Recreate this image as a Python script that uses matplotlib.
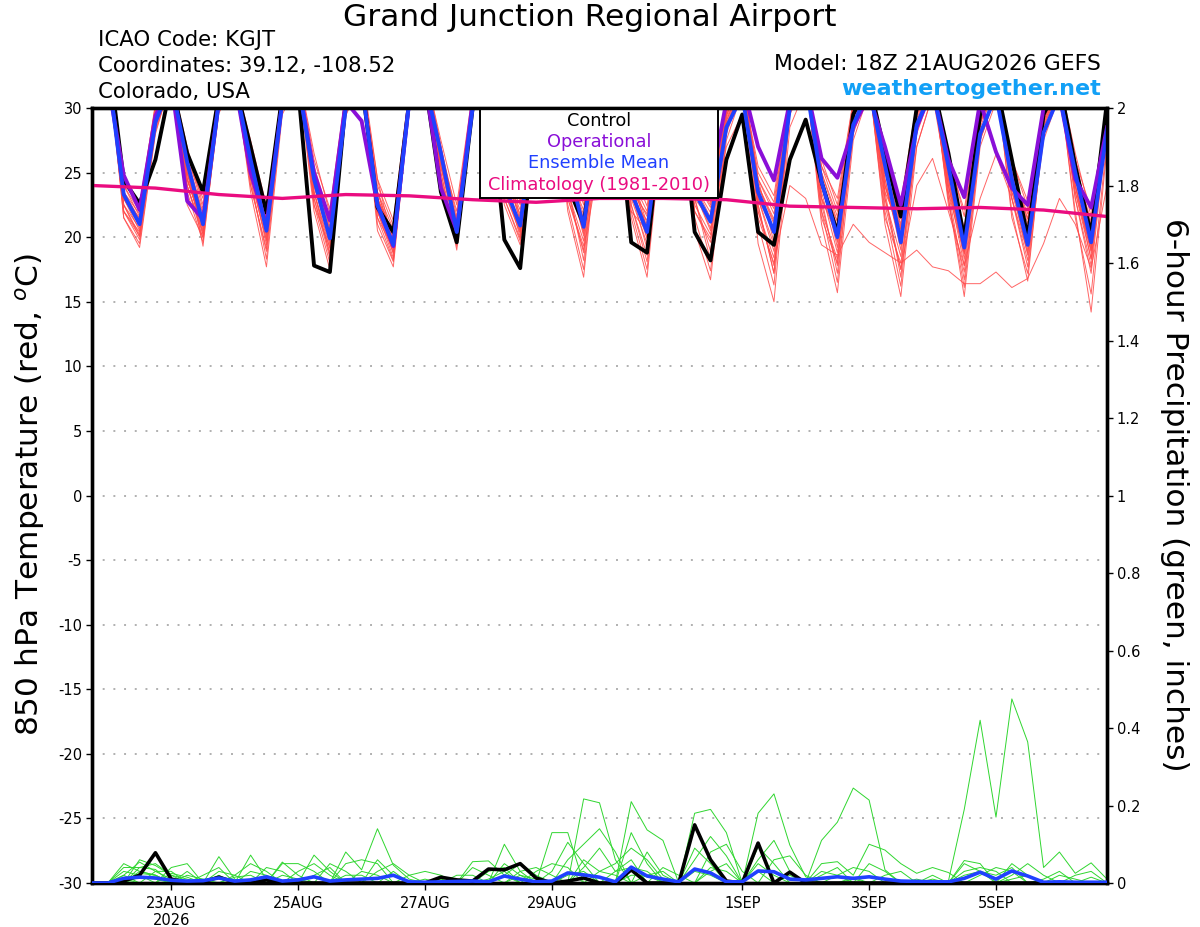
import numpy as np
import matplotlib
matplotlib.use("Agg")
import matplotlib.pyplot as plt
from matplotlib.patches import Rectangle

plt.rcParams['axes.unicode_minus'] = False

# ---------------- data ----------------
run_start = np.datetime64('2026-08-21T18')
step_hours = 6
n_steps = 65
tick_dates = ['2026-08-23', '2026-08-25', '2026-08-27', '2026-08-29',
              '2026-09-01', '2026-09-03', '2026-09-05']
tick_labels = ['23AUG\n2026', '25AUG', '27AUG', '29AUG', '1SEP', '3SEP', '5SEP']

# 850 hPa temperature (deg C), 6-hourly from 18Z 21AUG
t_mean = [33, 33,
          23.3, 21.0, 28.9, 32, 25.8, 21.0, 30.5, 32, 26.0, 20.5, 30.5, 32,
          24.5, 19.9, 30.0, 32, 22.5, 19.4, 30.5, 32, 26.5, 20.4, 30.0, 32,
          24.0, 20.9, 30.0, 32, 25.5, 20.8, 30.0, 32, 23.5, 20.4, 30.0, 32,
          23.5, 21.2, 28.5, 31, 23.5, 20.4, 30.0, 32, 24.3, 20.0, 28.7, 31.5,
          25.6, 19.6, 28.7, 31.5, 25.5, 19.2, 28.0, 31.0, 24.5, 19.4, 28.1, 31.0,
          25.0, 19.6, 28.3]
t_control = [33, 34.4,
             24.4, 22.6, 26.0, 32, 26.5, 23.5, 31.0, 32, 27.0, 21.9, 31.0, 31.5,
             17.8, 17.3, 30.5, 32, 22.3, 20.4, 30.5, 32, 23.5, 19.6, 30.0, 32,
             19.8, 17.6, 30.0, 32, 24.0, 21.0, 30.0, 32, 19.6, 18.8, 30.0, 32,
             20.4, 18.2, 26.0, 29.5, 20.4, 19.4, 26.0, 29.1, 24.3, 20.3, 29.5, 32,
             26.5, 21.6, 30.0, 32, 26.5, 19.9, 29.5, 32, 26.0, 20.0, 29.5, 32,
             25.5, 20.2, 30.5]
t_oper = [33, 32,
          24.8, 22.1, 29.4, 32, 22.8, 21.4, 30.5, 32, 25.0, 20.9, 30.5, 32,
          25.0, 21.3, 30.5, 29.0, 22.5, 19.3, 30.5, 32, 23.8, 20.5, 30.5, 32,
          25.0, 23.5, 30.5, 32, 26.0, 24.0, 30.5, 32, 26.0, 23.5, 30.5, 32,
          26.0, 24.0, 30.5, 32, 27.0, 24.4, 30.5, 32, 26.1, 24.6, 28.5, 31,
          27.0, 22.5, 28.5, 31.5, 26.0, 23.1, 30.5, 26.6, 23.8, 22.5, 30.0, 31.0,
          24.5, 22.3, 28.5]
# climatology, daily at 18Z
clim_t = [24.0, 23.8, 23.3, 23.0, 23.3, 23.2, 22.9, 22.7, 23.0, 23.0,
          22.9, 22.4, 22.3, 22.2, 22.3, 22.1, 21.6]

# ensemble members (temperature)
m01 = [33.5, 33.0, 22.0, 20.4, 28.5, 32.5, 24.5, 20.9, 30.8, 32.8, 25.0, 19.4, 30.5, 33.0,
       23.0, 18.8, 30.2, 33.2, 21.5, 19.1, 30.8, 33.0, 25.5, 20.2, 30.5, 32.6, 23.5, 20.3, 30.2, 32.8,
       24.0, 18.2, 29.8, 32.5, 23.0, 21.3, 30.6, 32.4, 22.0, 19.6, 29.0, 32.0, 22.5, 17.2, 30.5, 32.3,
       22.0, 18.3, 29.5, 32.0, 24.0, 19.8, 29.5, 32.2, 24.5, 18.7, 29.0, 32.0, 23.5, 20.2, 29.2, 31.8,
       24.0, 18.8, 29.0]
m02 = [33.0, 33.5, 23.0, 21.5, 29.5, 32.0, 25.5, 19.3, 30.2, 32.4, 26.5, 20.8, 31.0, 32.6,
       24.5, 20.5, 30.6, 32.8, 22.0, 18.4, 30.2, 32.5, 26.0, 21.1, 30.8, 32.9, 24.5, 21.8, 30.5, 33.0,
       26.5, 22.5, 30.4, 32.7, 22.5, 18.1, 29.6, 32.3, 24.5, 22.7, 29.5, 32.2, 24.0, 21.0, 30.6, 32.6,
       25.0, 21.6, 30.0, 32.4, 23.5, 16.9, 28.5, 31.8, 26.0, 20.3, 29.5, 32.2, 25.5, 21.4, 29.8, 32.0,
       26.0, 20.4, 29.5]
m03 = [33.8, 34.0, 21.5, 19.2, 28.0, 32.2, 26.0, 21.7, 31.0, 33.0, 24.5, 18.3, 30.0, 32.5,
       25.5, 21.4, 31.0, 33.0, 23.0, 20.3, 31.0, 33.2, 27.0, 19.3, 30.0, 32.4, 25.0, 22.5, 30.8, 32.8,
       25.0, 20.1, 30.0, 32.5, 24.5, 22.0, 30.8, 32.8, 23.0, 18.2, 28.5, 31.8, 25.0, 22.7, 31.0, 32.8,
       23.0, 17.2, 28.0, 31.5, 26.0, 21.4, 30.0, 32.5, 23.5, 16.7, 27.5, 31.0, 24.5, 19.8, 29.0, 31.8,
       23.0, 17.2, 28.5]
m04 = [33.2, 32.8, 24.0, 22.0, 30.0, 32.6, 24.0, 20.2, 30.0, 32.2, 27.0, 21.7, 31.2, 33.0,
       22.5, 18.0, 29.5, 32.4, 24.0, 20.9, 31.2, 33.0, 25.0, 19.8, 30.2, 32.5, 23.0, 19.7, 30.0, 32.4,
       27.0, 23.5, 30.8, 33.0, 25.0, 22.9, 31.0, 32.6, 25.5, 23.5, 30.0, 32.6, 21.0, 16.3, 29.5, 32.0,
       26.0, 22.5, 30.5, 32.6, 25.0, 20.6, 29.8, 32.4, 25.0, 19.9, 29.2, 32.0, 22.0, 16.6, 28.5, 31.5,
       25.5, 21.2, 29.8]
m05 = [33.0, 33.2, 22.5, 20.0, 29.0, 32.4, 27.0, 22.5, 31.2, 33.2, 25.5, 20.2, 30.5, 32.8,
       23.5, 19.4, 30.0, 32.6, 20.5, 17.7, 30.0, 32.2, 26.5, 20.7, 30.6, 32.8, 26.0, 23.6, 31.0, 33.0,
       22.0, 16.9, 29.0, 32.0, 23.5, 19.9, 30.2, 32.5, 24.0, 21.9, 29.8, 32.4, 23.0, 19.4, 30.0, 32.4,
       24.0, 19.6, 29.6, 32.2, 21.0, 15.4, 27.0, 31.0, 24.0, 19.1, 29.0, 31.8, 24.0, 18.6, 28.8, 31.6,
       22.0, 14.2, 27.0]
m06 = [33.6, 33.6, 23.5, 21.1, 29.2, 32.2, 25.0, 20.5, 30.4, 32.5, 23.5, 17.7, 29.5, 32.0,
       25.0, 20.8, 30.8, 32.9, 23.5, 19.9, 30.6, 32.8, 27.5, 22.5, 31.2, 33.2, 24.0, 20.9, 30.4, 32.6,
       25.5, 21.3, 30.2, 32.6, 21.5, 16.9, 29.0, 32.0, 25.0, 23.1, 30.0, 32.5, 24.5, 21.8, 30.8, 32.6,
       21.0, 15.7, 27.5, 31.2, 25.5, 21.0, 30.0, 32.3, 26.5, 21.6, 30.0, 32.4, 25.0, 20.6, 29.5, 32.0,
       25.0, 20.0, 29.5]
m07 = [33.0, 32.6, 22.5, 20.7, 28.8, 32.0, 25.0, 21.2, 30.6, 32.6, 26.0, 21.2, 30.8, 32.8,
       24.0, 19.6, 30.2, 32.6, 22.5, 19.5, 30.4, 32.6, 26.0, 20.0, 30.0, 32.4, 25.5, 23.0, 30.6, 32.8,
       23.0, 19.0, 26.0, 25.0, 22.0, 20.5, 28.0, 30.5, 23.5, 20.7, 27.0, 29.5, 21.5, 18.0, 24.0, 23.0,
       19.4, 18.6, 21.0, 19.6, 18.8, 18.0, 19.0, 17.7, 17.4, 16.4, 16.4, 17.3, 16.1, 16.8, 19.5, 23.0,
       21.0, 17.6, 24.0]
m08 = [33.4, 33.0, 24.5, 22.5, 30.2, 32.8, 23.5, 19.6, 29.8, 32.0, 25.0, 19.7, 30.2, 32.6,
       23.0, 18.4, 29.8, 32.5, 21.0, 18.1, 30.0, 32.4, 25.0, 19.0, 29.8, 32.2, 22.5, 19.4, 29.8, 32.2,
       25.5, 21.7, 30.5, 32.8, 24.0, 21.6, 30.6, 32.6, 21.5, 17.4, 28.0, 31.5, 23.5, 20.2, 30.2, 32.5,
       23.5, 18.8, 29.0, 32.0, 22.5, 17.5, 24.0, 26.1, 22.0, 17.8, 23.0, 26.4, 23.0, 18.2, 27.5, 31.0,
       24.0, 19.2, 28.8]
m09 = [33.2, 33.4, 23.0, 20.9, 29.0, 32.4, 26.5, 22.2, 31.0, 33.0, 26.5, 21.4, 31.0, 32.8,
       26.0, 22.2, 31.2, 33.2, 22.5, 18.9, 30.4, 32.6, 27.0, 21.6, 30.8, 33.0, 24.0, 21.1, 30.4, 32.6,
       24.0, 20.5, 30.0, 32.4, 26.0, 23.3, 31.2, 33.0, 22.5, 20.2, 29.0, 32.0, 22.0, 17.8, 29.8, 32.2,
       25.5, 22.0, 30.2, 32.5, 24.5, 19.4, 29.2, 32.0, 23.0, 15.4, 27.0, 30.5, 26.0, 22.3, 30.0, 32.2,
       26.5, 21.6, 30.0]
m10 = [33.0, 33.0, 22.0, 19.8, 28.4, 32.0, 24.0, 19.9, 30.0, 32.2, 25.5, 20.0, 30.4, 32.6,
       24.0, 20.2, 30.4, 32.6, 24.5, 21.3, 31.4, 33.2, 26.0, 20.3, 30.2, 32.5, 23.5, 20.5, 30.2, 32.5,
       27.5, 24.0, 31.0, 33.0, 23.0, 19.5, 30.0, 32.4, 24.0, 21.5, 29.6, 32.3, 19.5, 15.0, 28.5, 31.5,
       24.5, 20.8, 30.0, 32.4, 23.0, 18.5, 28.8, 31.8, 25.5, 20.7, 29.6, 32.2, 23.0, 17.7, 28.6, 31.5,
       23.5, 18.3, 28.8]
m11 = [33.5, 33.3, 23.5, 21.3, 29.5, 32.5, 22.5, 20.0, 29.6, 32.0, 24.0, 18.9, 30.0, 32.4,
       22.0, 17.5, 29.4, 32.2, 22.0, 19.3, 30.4, 32.6, 24.5, 19.6, 29.8, 32.3, 25.0, 22.1, 30.6, 32.8,
       23.5, 19.7, 29.8, 32.4, 24.5, 20.7, 30.4, 32.6, 26.0, 24.4, 30.4, 32.8, 24.0, 21.4, 30.6, 32.7,
       22.5, 17.8, 29.2, 32.0, 22.0, 16.2, 28.0, 31.5, 24.5, 18.3, 28.8, 31.8, 25.5, 21.0, 29.5, 32.0,
       21.5, 15.6, 27.5]
m12 = [33.3, 33.1, 22.5, 20.2, 28.7, 32.2, 25.5, 21.4, 30.6, 32.7, 25.0, 20.4, 30.4, 32.6,
       25.0, 21.1, 30.8, 32.9, 23.0, 20.1, 30.8, 32.8, 26.5, 21.3, 30.8, 32.8, 26.5, 21.5, 30.6, 32.8,
       25.0, 22.1, 30.4, 32.7, 22.5, 18.6, 29.6, 32.2, 23.0, 18.9, 28.8, 31.8, 25.5, 23.2, 31.2, 33.0,
       23.0, 20.4, 29.6, 32.2, 26.5, 22.8, 30.4, 32.6, 22.5, 17.3, 28.0, 31.2, 24.0, 19.4, 29.2, 31.8,
       24.5, 19.6, 29.2]
m13 = [33.7, 33.8, 24.0, 21.6, 29.8, 32.6, 24.5, 20.7, 30.2, 32.4, 27.5, 22.4, 31.5, 33.2,
       23.5, 18.6, 29.8, 32.4, 22.5, 18.7, 30.2, 32.4, 25.5, 20.5, 30.4, 32.6, 24.5, 20.0, 30.2, 32.4,
       22.5, 17.5, 29.2, 32.2, 25.0, 21.0, 30.6, 32.6, 24.5, 22.3, 29.8, 32.4, 22.0, 18.4, 29.8, 32.2,
       24.0, 21.2, 30.0, 32.3, 24.0, 20.2, 29.6, 32.2, 26.0, 22.1, 30.2, 32.5, 21.5, 17.2, 28.0, 31.4,
       25.0, 20.8, 29.6]
m14 = [33.1, 32.9, 23.0, 20.5, 29.0, 32.3, 26.0, 21.9, 31.0, 32.9, 24.0, 19.1, 30.0, 32.4,
       24.5, 19.9, 30.4, 32.6, 23.5, 20.6, 31.0, 33.0, 24.5, 19.5, 29.8, 32.2, 25.0, 20.7, 30.4, 32.6,
       26.0, 22.8, 30.8, 32.8, 24.0, 20.0, 30.2, 32.5, 23.5, 21.1, 29.4, 32.2, 24.5, 19.6, 30.2, 32.5,
       22.0, 16.5, 28.5, 31.6, 25.0, 21.8, 30.2, 32.4, 24.0, 18.9, 29.0, 31.8, 26.0, 22.8, 30.4, 32.4,
       24.0, 19.0, 29.0]
m15 = [33.4, 33.6, 22.0, 20.1, 28.6, 32.1, 24.5, 20.8, 30.2, 32.4, 26.0, 20.6, 30.6, 32.7,
       25.0, 20.6, 30.6, 32.8, 23.0, 20.0, 30.6, 32.8, 25.5, 20.9, 30.4, 32.6, 23.0, 19.9, 30.0, 32.4,
       23.5, 18.8, 29.6, 32.3, 23.5, 21.8, 30.6, 32.8, 20.5, 16.7, 27.5, 31.2, 23.5, 20.6, 30.4, 32.6,
       24.5, 19.2, 29.4, 32.0, 21.5, 18.0, 27.0, 31.0, 25.0, 19.5, 29.2, 32.0, 24.5, 20.5, 29.4, 32.0,
       25.5, 20.9, 29.6]
m16 = [33.0, 33.2, 24.5, 22.2, 30.4, 32.8, 25.0, 21.0, 30.4, 32.6, 26.0, 20.9, 30.8, 32.8,
       26.5, 21.8, 31.2, 33.2, 24.5, 19.4, 30.6, 32.7, 26.5, 22.0, 31.0, 33.0, 25.5, 21.2, 30.6, 32.7,
       25.0, 20.3, 30.2, 32.5, 23.5, 19.1, 30.0, 32.4, 25.5, 24.0, 30.2, 32.6, 24.0, 21.2, 30.6, 32.6,
       25.5, 23.0, 30.6, 32.8, 25.5, 20.8, 30.0, 32.3, 23.0, 16.1, 27.5, 31.0, 25.0, 21.8, 29.8, 32.0,
       26.0, 22.1, 30.0]
m17 = [33.6, 33.4, 21.5, 19.5, 28.2, 32.0, 24.0, 20.4, 30.2, 32.3, 25.5, 20.3, 30.4, 32.6,
       22.5, 19.2, 29.8, 32.4, 22.0, 18.8, 30.2, 32.4, 26.0, 21.0, 30.6, 32.7, 24.0, 20.6, 30.2, 32.5,
       24.5, 21.5, 30.2, 32.6, 25.5, 22.4, 31.0, 32.9, 22.0, 19.9, 28.6, 31.8, 24.5, 22.2, 31.0, 32.8,
       23.0, 20.0, 29.6, 32.2, 24.5, 19.0, 29.0, 32.0, 23.5, 18.7, 28.8, 31.8, 23.5, 19.0, 29.0, 31.8,
       23.0, 17.8, 28.6]
m18 = [33.2, 33.0, 23.5, 21.8, 29.6, 32.5, 24.5, 20.9, 30.2, 32.5, 26.5, 21.0, 30.8, 32.8,
       24.0, 19.8, 30.2, 32.6, 21.5, 18.2, 30.0, 32.3, 25.5, 20.1, 30.2, 32.5, 26.0, 22.8, 30.8, 32.9,
       24.5, 20.9, 30.2, 32.6, 24.0, 20.3, 30.2, 32.5, 23.5, 20.5, 29.2, 32.0, 23.0, 18.9, 30.0, 32.3,
       24.0, 19.8, 29.6, 32.2, 24.0, 19.6, 29.4, 32.1, 24.5, 19.3, 29.2, 32.0, 24.5, 20.5, 29.4, 32.0,
       24.5, 19.4, 29.2]
m19 = [33.5, 33.7, 23.0, 21.0, 29.2, 32.4, 26.0, 23.0, 31.4, 33.2, 24.5, 19.8, 30.2, 32.6,
       23.5, 19.1, 30.0, 32.5, 23.5, 19.7, 30.6, 32.7, 26.5, 20.4, 30.6, 32.7, 25.5, 21.3, 30.6, 32.7,
       23.0, 19.3, 29.6, 32.3, 22.0, 17.5, 29.4, 32.2, 23.0, 21.3, 29.4, 32.2, 22.5, 17.2, 29.6, 32.2,
       25.0, 21.2, 30.0, 32.4, 23.0, 17.5, 28.5, 31.6, 24.0, 17.8, 28.5, 31.6, 25.0, 21.4, 29.6, 32.0,
       24.0, 18.3, 28.8]
m20 = [33.1, 33.3, 23.5, 21.4, 29.4, 32.4, 25.0, 20.2, 30.2, 32.4, 26.0, 21.5, 31.0, 32.9,
       24.5, 20.2, 30.4, 32.7, 23.0, 19.6, 30.6, 32.7, 27.0, 21.1, 30.8, 32.9, 24.5, 20.4, 30.4, 32.6,
       24.0, 21.3, 30.2, 32.5, 24.5, 20.7, 30.4, 32.6, 24.5, 22.5, 29.8, 32.4, 23.0, 20.4, 30.2, 32.5,
       21.5, 18.0, 28.6, 31.6, 23.5, 20.6, 29.6, 32.2, 25.5, 20.5, 29.6, 32.2, 23.0, 18.8, 28.8, 31.6,
       23.5, 19.0, 29.0]
t_members = [m01, m02, m03, m04, m05, m06, m07, m08, m09, m10,
             m11, m12, m13, m14, m15, m16, m17, m18, m19, m20]

# 6-hour precipitation (inches)
p_control = [0, 0, .005, .02, .078, .01, .002, .003, .015, .002,
             0, .008, 0, 0, 0, 0, 0, 0, 0, 0,
             0, 0, .015, .008, .005, .036, .034, .05, .013, 0,
             .005, .013, 0, 0, .034, 0, 0, 0, .15, .06,
             .005, 0, .103, 0, .028, 0, 0, 0, 0, 0,
             0, 0, 0, 0, 0, 0, 0, 0, 0, 0,
             0, 0, 0, 0, 0]
p_mean = [0, 0, .012, .015, .013, .007, .005, .006, .013, .005,
          .008, .016, .005, .008, .016, .005, .008, .01, .012, .02,
          .003, .002, .003, .004, .005, .003, .018, .01, .003, .005,
          .026, .021, .015, .003, .041, .018, .01, .003, .036, .026,
          .003, .003, .031, .029, .01, .008, .012, .016, .012, .016,
          .01, .005, .004, .003, .003, .012, .028, .01, .031, .018,
          .002, .003, .002, .002, .002]
g01 = [0, 0, .02, .054, .03, .01, 0, 0, .068, .01,
       0, 0, 0, 0, .072, .03, 0, 0, 0, 0,
       0, 0, 0, 0, 0, 0, 0, 0, 0, .13,
       .13, 0, 0, 0, 0, 0, 0, 0, .18, .19,
       .13, 0, 0, 0, 0, 0, 0, 0, 0, 0,
       0, 0, 0, 0, 0, .058, .05, 0, .05, .02,
       0, 0, 0, 0, 0]
g02 = [0, 0, .05, .03, .02, 0, .03, 0, 0, 0,
       .072, .01, 0, 0, 0, 0, .08, .034, .14, .046,
       .01, 0, 0, 0, 0, 0, .10, .03, 0, 0,
       0, .217, .207, .06, 0, 0, 0, 0, 0, 0,
       0, 0, .18, .23, .098, .016, 0, 0, 0, 0,
       0, 0, 0, 0, 0, 0, 0, 0, 0, 0,
       0, 0, 0, 0, 0]
g03 = [0, 0, 0, .04, .05, .02, 0, 0, 0, 0,
       0, 0, .054, .02, 0, 0, 0, 0, 0, 0,
       0, 0, 0, 0, .055, .057, .02, 0, 0, 0,
       0, 0, 0, 0, .21, .137, .11, 0, 0, 0,
       0, 0, 0, 0, 0, 0, .11, .157, .245, .214,
       .034, 0, 0, 0, 0, 0, 0, 0, 0, 0,
       0, 0, 0, 0, 0]
g04 = [0, 0, 0, 0, 0, 0, .02, .01, 0, 0,
       0, 0, 0, 0, 0, 0, 0, 0, 0, .03,
       0, 0, 0, 0, 0, 0, 0, 0, 0, 0,
       0, 0, 0, 0, 0, 0, 0, 0, 0, 0,
       0, 0, 0, 0, 0, 0, 0, 0, 0, 0,
       0, 0, 0, 0, .005, .19, .42, .17, .475, .364,
       .04, .08, .025, .052, .01]
g05 = [0, 0, .03, .02, 0, .04, .05, 0, .02, 0,
       0, 0, .05, .05, .03, 0, 0, 0, 0, 0,
       0, 0, 0, 0, 0, 0, .05, .02, 0, 0,
       0, .06, .03, .02, 0, .08, .02, 0, .09, .05,
       0, 0, .093, .05, 0, 0, .05, .055, .02, .10,
       .085, .05, .025, .04, .027, 0, 0, 0, 0, 0,
       0, 0, 0, 0, 0]
g06 = [0, 0, 0, .025, .02, 0, 0, .02, .04, 0,
       .03, .02, 0, 0, 0, .05, .03, 0, .06, .02,
       0, 0, 0, 0, 0, .03, .04, 0, 0, .03,
       .105, .05, 0, 0, .13, .05, 0, 0, .06, .12,
       .07, 0, .05, .02, 0, 0, 0, 0, 0, 0,
       0, 0, 0, 0, 0, .05, .03, .02, .04, 0,
       .01, .03, 0, 0, 0]
g07 = [0, 0, .04, .04, .035, 0, 0, 0, 0, .02,
       .05, .03, 0, 0, 0, 0, .05, .06, .05, 0,
       0, 0, .01, 0, .04, .02, 0, 0, 0, 0,
       .06, .10, .14, .08, 0, .02, .03, 0, 0, .08,
       .10, .03, 0, 0, 0, 0, 0, .02, .04, .03,
       0, 0, 0, .01, 0, .03, .04, .03, 0, 0,
       0, 0, .02, .03, 0]
g08 = [0, 0, 0, .06, .045, .02, .01, 0, 0, 0,
       0, 0, 0, .03, .05, .02, 0, 0, 0, 0,
       .02, .03, .02, 0, 0, 0, 0, .02, .01, 0,
       0, 0, .03, .05, .09, .06, .01, 0, 0, 0,
       0, 0, .06, .11, .03, 0, 0, 0, .01, 0,
       0, 0, 0, 0, 0, 0, 0, 0, .02, .05,
       .02, 0, 0, 0, 0]
g09 = [0, 0, .01, 0, .03, .03, 0, 0, 0, 0,
       0, .04, .03, 0, 0, 0, .02, .02, 0, 0,
       0, 0, 0, .02, .02, 0, 0, 0, .03, .05,
       .04, 0, 0, 0, 0, 0, .04, .02, 0, .03,
       .05, 0, 0, 0, .02, 0, .02, .04, 0, 0,
       .02, .03, 0, 0, 0, 0, .02, .04, .03, 0,
       0, 0, 0, 0, 0]
g10 = [0, 0, 0, .03, .02, 0, 0, 0, .03, .02,
       0, 0, 0, 0, .02, .04, 0, 0, .03, .05,
       .02, 0, 0, 0, 0, 0, .02, .05, .02, 0,
       0, .04, .09, .03, .06, 0, 0, 0, .03, .02,
       0, 0, 0, .06, .07, .02, 0, 0, 0, .05,
       .03, 0, 0, .02, 0, 0, 0, 0, 0, 0,
       0, .02, .01, 0, 0]
g11 = [0, 0, .02, 0, 0, .025, .015, 0, 0, 0,
       0, 0, .02, .01, 0, 0, 0, .03, .02, 0,
       0, 0, 0, 0, 0, .01, .03, 0, 0, 0,
       .02, .03, 0, .03, .04, .03, 0, 0, 0, .04,
       .03, 0, 0, 0, 0, 0, .03, .02, 0, 0,
       0, 0, 0, 0, 0, .02, .03, 0, 0, 0,
       0, 0, 0, .015, 0]
g12 = [0, 0, 0, .015, .01, 0, 0, 0, 0, .015,
       .02, 0, 0, 0, 0, 0, 0, 0, 0, 0,
       0, .01, 0, 0, 0, 0, 0, .03, .04, .02,
       0, 0, 0, 0, .02, .02, 0, 0, 0, 0,
       0, .01, .03, 0, 0, 0, 0, 0, .015, 0,
       0, 0, .01, 0, 0, 0, 0, 0, .01, .02,
       0, 0, 0, 0, 0]
p_members = [g01, g02, g03, g04, g05, g06, g07, g08, g09, g10, g11, g12]

# ---------------- styles ----------------
C_RED = '#ff4a4a'
C_GREEN = '#2fd62f'
C_OPER = '#8a0fd8'
C_MEAN = '#2040ff'
C_CLIM = '#ea0c80'
C_LINK = '#12a0f6'

hours = np.arange(n_steps) * step_hours
clim_hours = np.arange(len(clim_t)) * 24
tick_hours = [(np.datetime64(d + 'T00') - run_start) / np.timedelta64(1, 'h') for d in tick_dates]

fig = plt.figure(figsize=(12, 9.27), dpi=100)
ax = fig.add_axes([92 / 1200, 44 / 927, 1015 / 1200, 775 / 927])
ax2 = ax.twinx()

for m in t_members:
    ax.plot(hours, m, color=C_RED, lw=0.7, alpha=0.85, zorder=2)
ax.plot(hours, t_control, color='black', lw=2.8, zorder=3)
ax.plot(hours, t_oper, color=C_OPER, lw=2.8, zorder=4)
ax.plot(hours, t_mean, color=C_MEAN, lw=2.8, zorder=5)
ax.plot(clim_hours, clim_t, color=C_CLIM, lw=2.4, zorder=6)

for g in p_members:
    ax2.plot(hours, g, color=C_GREEN, lw=0.7, zorder=2)
ax2.plot(hours, p_control, color='black', lw=2.6, zorder=3)
ax2.plot(hours, p_mean, color=C_MEAN, lw=2.6, zorder=4)

ax.set_xlim(0, hours[-1])
ax.set_ylim(-30, 30)
ax2.set_ylim(0, 2)
ax.set_yticks(np.arange(-30, 31, 5))
ax2.set_yticks(np.round(np.arange(0, 2.01, 0.2), 1))
ax2.set_yticklabels(['0', '0.2', '0.4', '0.6', '0.8', '1', '1.2', '1.4', '1.6', '1.8', '2'])
ax.set_xticks(tick_hours)
ax.set_xticklabels(tick_labels)

ax.yaxis.grid(True, color='#b0b0b0', linestyle=(0, (1, 4.5)), linewidth=1.4)
ax.xaxis.grid(False)
ax.set_axisbelow(True)

for a in (ax, ax2):
    for s in a.spines.values():
        s.set_linewidth(2.4)
ax.tick_params(axis='y', direction='out', length=4, width=1, labelsize=10.5, pad=3)
ax.tick_params(axis='x', direction='out', length=5, width=1, labelsize=10.5, pad=4)
ax2.tick_params(axis='y', direction='out', length=4, width=1, labelsize=10.5, pad=3)

# legend box
lx0, lx1, ly0 = (480 - 92) / 1015, (718 - 92) / 1015, (883 - 198) / 775
ax.add_patch(Rectangle((lx0, ly0), lx1 - lx0, 1 - ly0, transform=ax.transAxes,
                       facecolor='white', edgecolor='black', lw=1.4, zorder=20, clip_on=False))
lxc = (lx0 + lx1) / 2
for ypix, txt, col in [(121, 'Control', 'black'), (142, 'Operational', C_OPER),
                       (163, 'Ensemble Mean', C_MEAN), (185, 'Climatology (1981-2010)', C_CLIM)]:
    ax.text(lxc, (883 - ypix) / 775, txt, transform=ax.transAxes, ha='center', va='center',
            color=col, fontsize=12.8, zorder=21)

# header texts
fig.text(590 / 1200, 1 - 18 / 927, 'Grand Junction Regional Airport', ha='center', va='center', fontsize=22.5)
fig.text(98 / 1200, 1 - 40 / 927, 'ICAO Code: KGJT', ha='left', va='center', fontsize=15.3)
fig.text(98 / 1200, 1 - 66 / 927, 'Coordinates: 39.12, -108.52', ha='left', va='center', fontsize=15.3)
fig.text(98 / 1200, 1 - 92 / 927, 'Colorado, USA', ha='left', va='center', fontsize=15.3)
fig.text(1101 / 1200, 1 - 64 / 927, 'Model: 18Z 21AUG2026 GEFS', ha='right', va='center', fontsize=15.8)
fig.text(1101 / 1200, 1 - 89 / 927, 'weathertogether.net', ha='right', va='center', fontsize=16,
         fontweight='bold', color=C_LINK)

fig.text(30 / 1200, 1 - 495 / 927, '850 hPa Temperature (red, $^{o}$C)', rotation=90,
         ha='center', va='center', fontsize=22.5)
fig.text(1175 / 1200, 1 - 495 / 927, '6-hour Precipitation (green, inches)', rotation=270,
         ha='center', va='center', fontsize=22.5)

fig.savefig('out.png', dpi=100)
